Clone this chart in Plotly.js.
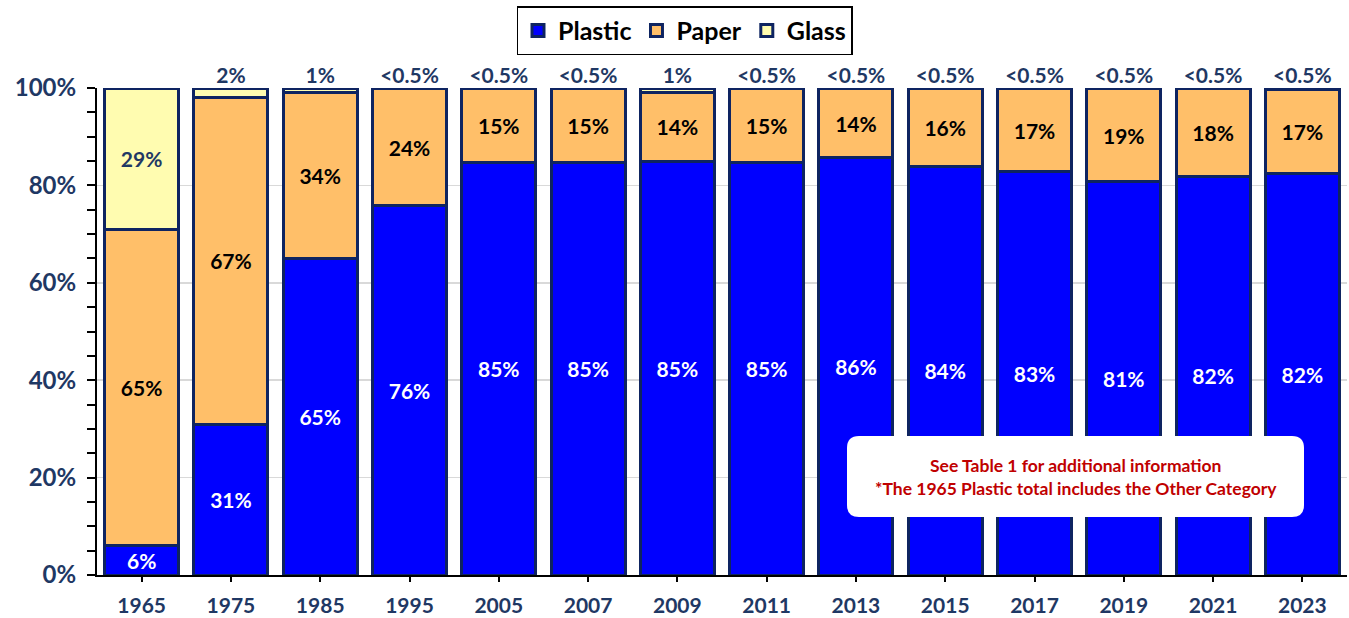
<!DOCTYPE html>
<html>
<head>
<meta charset="utf-8">
<script src="https://cdn.plot.ly/plotly-3.0.1.min.js"></script>
<style>html,body{margin:0;padding:0;background:#fff;}#chart{width:1349px;height:618px;}</style>
</head>
<body>
<div id="chart"></div>
<script>
const years = ['1965','1975','1985','1995','2005','2007','2009','2011','2013','2015','2017','2019','2021','2023'];
const plastic = [6, 31, 65, 75.8, 84.8, 84.8, 85, 84.8, 85.8, 83.8, 82.8, 80.8, 81.8, 82.4];
const paper   = [65, 67, 34, 24, 15, 15, 14, 15, 14, 16, 17, 19, 18, 17.3];
const glass   = [29, 2, 1, 0.2, 0.2, 0.2, 1, 0.2, 0.2, 0.2, 0.2, 0.2, 0.2, 0.3];
const plasticLabels = ['6%','31%','65%','76%','85%','85%','85%','85%','86%','84%','83%','81%','82%','82%'];
const paperLabels   = ['65%','67%','34%','24%','15%','15%','14%','15%','14%','16%','17%','19%','18%','17%'];
const glassLabels   = ['29%','','','','','','','','','','','','',''];
const topLabels     = ['','2%','1%','<0.5%','<0.5%','<0.5%','1%','<0.5%','<0.5%','<0.5%','<0.5%','<0.5%','<0.5%','<0.5%'];
const topLabelY     = [100,100,100,100,100,100,100,100,100,100,100,100,100,100];
const yTickVals = [0, 20, 40, 60, 80, 100];
const yTickText = ['0%','20%','40%','60%','80%','100%'];
const noteText = 'See Table 1 for additional information<br>*The 1965 Plastic total includes the Other Category';

const FONT = 'Lato, "Open Sans", sans-serif';
const NAVY = '#1F3864';
const OUT = {color: '#0E2461', width: 3};

const common = {
  type: 'bar', x: years, textposition: 'inside', insidetextanchor: 'middle',
  textangle: 0, hoverinfo: 'skip', constraintext: 'none'
};

const traces = [
  Object.assign({}, common, {name: 'Plastic', y: plastic, text: plasticLabels,
    marker: {color: '#0000FF', line: OUT},
    textfont: {family: FONT, size: 21, color: '#FFFFFF', weight: 'bold'}}),
  Object.assign({}, common, {name: 'Paper', y: paper, text: paperLabels,
    marker: {color: '#FFBF69', line: OUT},
    textfont: {family: FONT, size: 21, color: '#000000', weight: 'bold'}}),
  Object.assign({}, common, {name: 'Glass', y: glass, text: glassLabels,
    marker: {color: '#FFFCB0', line: OUT},
    textfont: {family: FONT, size: 21, color: NAVY, weight: 'bold'}}),
  {type: 'scatter', mode: 'text', x: years, y: topLabelY,
    text: topLabels, textposition: 'top center', cliponaxis: false, showlegend: false, hoverinfo: 'skip',
    textfont: {family: FONT, size: 21, color: NAVY, weight: 'bold'}}
];

const x0 = 0.6, x1 = 0.9656, y0 = 0.119, y1 = 0.2854, rx = 0.0096, ry = 0.0246;
const boxPath = `M ${x0+rx} ${y0} L ${x1-rx} ${y0} Q ${x1} ${y0} ${x1} ${y0+ry} L ${x1} ${y1-ry} Q ${x1} ${y1} ${x1-rx} ${y1} L ${x0+rx} ${y1} Q ${x0} ${y1} ${x0} ${y1-ry} L ${x0} ${y0+ry} Q ${x0} ${y0} ${x0+rx} ${y0} Z`;

const layout = {
  width: 1349, height: 618,
  margin: {l: 97, r: 2, t: 88, b: 43},
  paper_bgcolor: '#FFFFFF', plot_bgcolor: '#FFFFFF',
  barmode: 'stack', bargap: 0.17,
  font: {family: FONT},
  showlegend: true,
  legend: {orientation: 'h', x: 0.47, xanchor: 'center', y: 1.168, yanchor: 'top',
    traceorder: 'normal', bgcolor: '#FFFFFF', bordercolor: '#000000', borderwidth: 1.5,
    font: {family: FONT, size: 25, color: '#000000', weight: 'bold'}, itemwidth: 30},
  xaxis: {type: 'category', range: [-0.5, 13.5], showgrid: false, showline: true, linecolor: '#000000', linewidth: 2,
    ticks: 'outside', ticklen: 5, tickwidth: 2, tickcolor: '#000000', ticklabelstandoff: 6,
    tickfont: {family: FONT, size: 21, color: NAVY, weight: 'bold'}, fixedrange: true},
  yaxis: {range: [0, 100], tickvals: yTickVals, ticktext: yTickText,
    showgrid: true, gridcolor: '#D9D9D9', gridwidth: 1.5, zeroline: false,
    showline: true, linecolor: '#000000', linewidth: 2,
    ticks: 'outside', ticklen: 8, tickwidth: 2, tickcolor: '#000000', ticklabelstandoff: 6,
    minor: {dtick: 5, ticks: 'outside', ticklen: 8, tickwidth: 2, tickcolor: '#000000', showgrid: false},
    tickfont: {family: FONT, size: 24, color: NAVY, weight: 'bold'}, fixedrange: true},
  shapes: [{type: 'path', xref: 'paper', yref: 'paper', path: boxPath,
    fillcolor: '#FFFFFF', line: {width: 0}, layer: 'above'}],
  annotations: [{xref: 'paper', yref: 'paper', x: (x0 + x1) / 2, y: (y0 + y1) / 2,
    xanchor: 'center', yanchor: 'middle', showarrow: false, text: noteText, align: 'center',
    font: {family: FONT, size: 17.5, color: '#C00000', weight: 'bold'}}]
};

Plotly.newPlot('chart', traces, layout, {displayModeBar: false, staticPlot: true});
</script>
</body>
</html>
